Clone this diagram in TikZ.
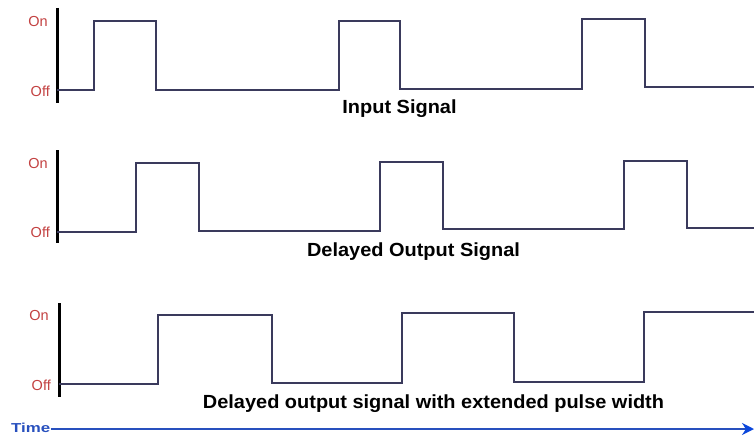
\documentclass[tikz,border=0pt]{standalone}
\usepackage{fontspec}
\setmainfont{Liberation Sans}
\newfontfamily\titlefont[FakeStretch=1.05]{Liberation Sans Bold}
\newfontfamily\timefont[FakeStretch=1.3]{Liberation Sans Bold}
\usetikzlibrary{arrows.meta}
\definecolor{sig}{RGB}{58,58,92}
\definecolor{lvl}{RGB}{195,65,65}
\definecolor{tblue}{RGB}{40,80,190}
\definecolor{ablue}{RGB}{10,70,220}
\tikzset{
  wave/.style={draw=sig, line width=1.8pt, line join=miter},
  axisline/.style={draw=black, line width=3pt},
  lvllabel/.style={text=lvl, font=\fontsize{14.5}{14.5}\selectfont, anchor=east, inner sep=0pt},
  title/.style={font=\titlefont\fontsize{19}{19}\selectfont, anchor=base, inner sep=0pt},
}
\begin{document}
\begin{tikzpicture}[x=1pt,y=-1pt]
\useasboundingbox[fill=white] (0,0) rectangle (754,444);
% signal 1
\draw[axisline] (57,8) -- (57,103);
\node[lvllabel] (on1) at (48,22) {On};
\node[lvllabel] (off1) at (50,91) {Off};
\draw[wave] (57,90) -- (94,90) -- (94,21) -- (156,21) -- (156,90) -- (339,90) -- (339,21) -- (400,21) -- (400,89) -- (582,89) -- (582,19) -- (645,19) -- (645,87) -- (754,87);
\node[title] (t1) at (399.5,113) {Input Signal};
% signal 2
\draw[axisline] (57,150) -- (57,243);
\node[lvllabel] (on2) at (48,164) {On};
\node[lvllabel] (off2) at (50,232) {Off};
\draw[wave] (57,232) -- (136,232) -- (136,163) -- (199,163) -- (199,231) -- (380,231) -- (380,162) -- (443,162) -- (443,229) -- (624,229) -- (624,161) -- (687,161) -- (687,228) -- (754,228);
\node[title] (t2) at (413.5,256) {Delayed Output Signal};
% signal 3
\draw[axisline] (59,303) -- (59,397);
\node[lvllabel] (on3) at (49,316) {On};
\node[lvllabel] (off3) at (51,385) {Off};
\draw[wave] (59,384) -- (158,384) -- (158,315) -- (272,315) -- (272,383) -- (402,383) -- (402,313) -- (514,313) -- (514,382) -- (644,382) -- (644,312) -- (754,312);
\node[title] (t3) at (433.5,408) {Delayed output signal with extended pulse width};
% time axis
\node[text=tblue, font=\timefont\fontsize{13}{13}\selectfont, anchor=west, inner sep=0pt] (time) at (11,428) {Time};
\coordinate (tend) at (754,429);
\draw[draw=tblue, line width=2pt, -{Stealth[length=12pt,width=12pt,color=ablue]}] (time.east |- tend) -- (tend);
\end{tikzpicture}
\end{document}
